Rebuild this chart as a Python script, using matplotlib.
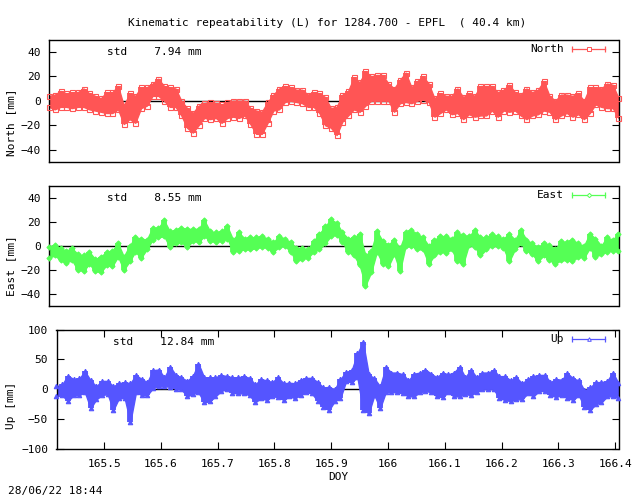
import matplotlib
matplotlib.use('Agg')
import matplotlib.pyplot as plt

W, H = 640, 496

doy = [165.416,165.426,165.436,165.446,165.456,165.466,165.476,165.486,165.496,165.506,
       165.516,165.526,165.536,165.546,165.556,165.566,165.576,165.586,165.596,165.606,
       165.616,165.626,165.636,165.646,165.656,165.666,165.676,165.686,165.696,165.706,
       165.716,165.726,165.736,165.746,165.756,165.766,165.776,165.786,165.796,165.806,
       165.816,165.826,165.836,165.846,165.856,165.866,165.876,165.886,165.896,165.906,
       165.916,165.926,165.936,165.946,165.956,165.966,165.976,165.986,165.996,166.006,
       166.016,166.026,166.036,166.046,166.056,166.066,166.076,166.086,166.096,166.106,
       166.116,166.126,166.136,166.146,166.156,166.166,166.176,166.186,166.196,166.206,
       166.216,166.226,166.236,166.246,166.256,166.266,166.276,166.286,166.296,166.306,
       166.316,166.326,166.336,166.346,166.356,166.366,166.376,166.386,166.396,166.406]

north_hi = [4,5,8,6,7,7,10,6,4,2, 7,7,12,-4,6,4,11,11,14,18,
            12,11,10,0,-6,-10,-4,-2,-1,-2, -3,-1,0,0,0,-6,-8,-9,-1,5,
            10,12,11,9,9,5,7,6,3,-6, -5,5,8,19,15,24,20,21,21,14,
            10,17,23,11,16,20,14,2,6,4, 4,10,3,6,4,12,12,12,7,9,
            13,7,5,10,7,9,16,4,0,5, 5,4,6,0,11,11,10,14,13,2]
north_lo = [-5,-7,-5,-5,-6,-5,-5,-7,-8,-9, -10,-10,-7,-19,-15,-18,-6,-4,4,4,
            0,-5,-5,-12,-22,-26,-20,-14,-15,-14, -18,-14,-13,-14,-12,-19,-27,-27,-18,-8,
            -7,-1,0,-1,-2,-5,-5,-10,-20,-22, -28,-17,-12,-7,-9,-4,0,0,0,0,
            -9,-2,-1,-2,0,1,-1,-13,-10,-7, -11,-10,-15,-11,-13,-12,-12,-8,-13,-8,
            -9,-8,-12,-15,-12,-11,-8,-9,-15,-12, -10,-13,-11,-15,-10,-3,-5,-6,-6,-14]

east_hi = [-1,1,-2,-4,-2,-7,-8,-5,-11,-9, -5,-4,2,-9,0,7,6,5,15,15,
           21,12,13,15,14,14,14,21,12,11, 12,16,5,11,6,7,7,8,6,3,
           8,6,3,-2,-2,-3,4,10,16,22, 19,11,6,7,10,-8,-4,12,4,1,
           5,-2,11,13,10,7,0,5,8,8, 6,11,9,8,13,7,7,10,8,6,
           10,5,13,5,2,-1,2,1,-3,4, 3,5,2,0,10,6,0,7,5,10]
east_lo = [-10,-8,-12,-14,-12,-20,-21,-15,-21,-22, -16,-17,-9,-20,-13,-5,-10,-3,5,7,
           8,-1,2,3,-1,4,3,8,4,3, 4,6,-5,-4,-3,-3,-2,-1,-2,-5,
           -1,0,-5,-13,-11,-10,-5,-3,2,8, 9,3,-5,-8,-16,-33,-22,-5,-15,-17,
           -7,-21,0,0,-3,-3,-15,-8,-5,-6, -3,-13,-15,1,-1,-8,-3,0,0,-2,
           -13,-3,2,-4,-7,-13,-8,-12,-15,-12, -12,-13,-9,-10,-2,-9,-7,-5,-4,-4]

up_hi = [5,8,23,17,18,30,15,5,14,14, 5,10,12,10,24,17,12,32,33,20,
         38,24,20,14,22,43,20,20,20,24, 22,20,20,22,19,8,17,15,12,20,
         10,11,10,16,19,19,12,3,4,0, 17,29,32,60,79,25,18,5,37,28,
         28,25,15,26,28,33,26,20,28,25, 28,38,20,33,20,28,28,32,22,22,
         15,20,10,17,22,24,24,12,17,16, 27,18,15,-2,3,12,12,14,28,10]
up_lo = [-12,-10,-20,-10,-10,-5,-32,-17,-10,-8, -35,-15,-15,-55,-5,-10,-10,2,5,5,
         4,1,0,-12,-8,-5,-22,-20,-12,-3, 0,-6,-7,-7,-10,-22,-15,-18,-12,-13,
         -18,-12,-15,-10,-5,-7,-20,-30,-35,-20, -15,13,12,20,-35,-40,-10,-32,-5,-5,
         -5,-7,-12,-12,-5,-3,-5,-12,-13,-5, -12,-12,-8,-10,-5,0,0,0,-15,-18,
         -20,-17,-17,-7,-12,-3,-3,-10,-13,-10, -15,-18,-10,-30,-35,-25,-22,-12,-12,-15]

yticks_small = [-40, -20, 0, 20, 40]
yticks_up = [-100, -50, 0, 50, 100]
xticks = [165.5, 165.6, 165.7, 165.8, 165.9, 166.0, 166.1, 166.2, 166.3, 166.4]
xticklabels = ['165.5', '165.6', '165.7', '165.8', '165.9', '166', '166.1', '166.2', '166.3', '166.4']

FONT = 'DejaVu Sans Mono'
FS = 8.05
RED = '#ff5555'
GREEN = '#55ff55'
BLUE = '#5555ff'


def fx(px):
    return px / W


def fy(py):
    return 1 - py / H


def put(px, py, s, ha='left', rotation=0):
    fig.text(fx(px), fy(py), s, ha=ha, va='center', rotation=rotation,
             family=FONT, fontsize=FS, color='black')


def panel(left, right, top, bottom, hi, lo, color, marker, mfc, ms, key_ms, ylim, yticks, name):
    ax = fig.add_axes([fx(left), fy(bottom), fx(right - left), (bottom - top) / H])
    ax.axhline(0, color='black', lw=1.0, zorder=1)
    # the point cloud is too dense to read one by one, so draw its envelope
    ax.fill_between(doy, lo, hi, color=color, lw=1.0, zorder=2)
    ax.vlines(doy, lo, hi, color=color, lw=4.2, zorder=2)
    for vals in (hi, lo):
        ax.plot(doy, vals, ls='none', marker=marker, ms=ms, mfc=mfc, mec=color,
                mew=0.8, zorder=3, clip_on=False)
    ax.set_xlim(165.416, 166.406)
    ax.set_ylim(*ylim)
    ax.set_yticks(yticks)
    ax.tick_params(axis='y', direction='in', length=5, width=0.8, left=True, right=True, pad=6)
    for lab in ax.get_yticklabels():
        lab.set_family(FONT)
        lab.set_fontsize(FS)
    for sp in ax.spines.values():
        sp.set_linewidth(1.0)

    # key drawn like the gnuplot errorbar sample
    t = ax.transAxes
    kx0 = (572 - left) / (right - left)
    kx1 = (605 - left) / (right - left)
    ky = (bottom - (top + 9.5)) / (bottom - top)
    ax.plot([kx0, kx1], [ky, ky], color=color, lw=0.9, transform=t, zorder=4)
    ax.plot([kx0, kx1], [ky, ky], ls='none', marker='|', ms=5.0, mew=0.9, color=color, transform=t, zorder=4)
    ax.plot([(kx0 + kx1) / 2], [ky], ls='none', marker=marker, ms=key_ms, mfc='white', mec=color,
            mew=0.7, transform=t, zorder=5)
    put(564, top + 9.5, name, ha='right')
    return ax


fig = plt.figure(figsize=(W / 100, H / 100), dpi=100)

ax1 = panel(49, 618.5, 39.5, 162, north_hi, north_lo, RED, 's', 'none', 3.6, 3.2, (-50, 50), yticks_small, 'North')
ax1.set_xticks([])
ax2 = panel(49, 618.5, 185.5, 306, east_hi, east_lo, GREEN, 'D', GREEN, 2.6, 2.2, (-50, 50), yticks_small, 'East')
ax2.set_xticks([])
ax3 = panel(56.5, 618.5, 329.5, 449, up_hi, up_lo, BLUE, '^', BLUE, 3.2, 2.6, (-100, 100), yticks_up, 'Up')
ax3.set_xticks(xticks)
ax3.set_xticklabels(xticklabels, family=FONT, fontsize=FS)
ax3.tick_params(axis='x', direction='in', length=5, width=0.8, top=True, bottom=True, pad=7)

put(327, 23.5, 'Kinematic repeatability (L) for 1284.700 - EPFL  ( 40.4 km)', ha='center')
put(107, 52, 'std    7.94 mm')
put(107, 198, 'std    8.55 mm')
put(113, 342, 'std    12.84 mm')
put(11, 122.5, 'North [mm]', ha='center', rotation=90)
put(11, 266, 'East [mm]', ha='center', rotation=90)
put(11, 405, 'Up [mm]', ha='center', rotation=90)
put(338, 476.5, 'DOY', ha='center')
put(8, 491, '28/06/22 18:44')

fig.savefig('out.png', dpi=100)
